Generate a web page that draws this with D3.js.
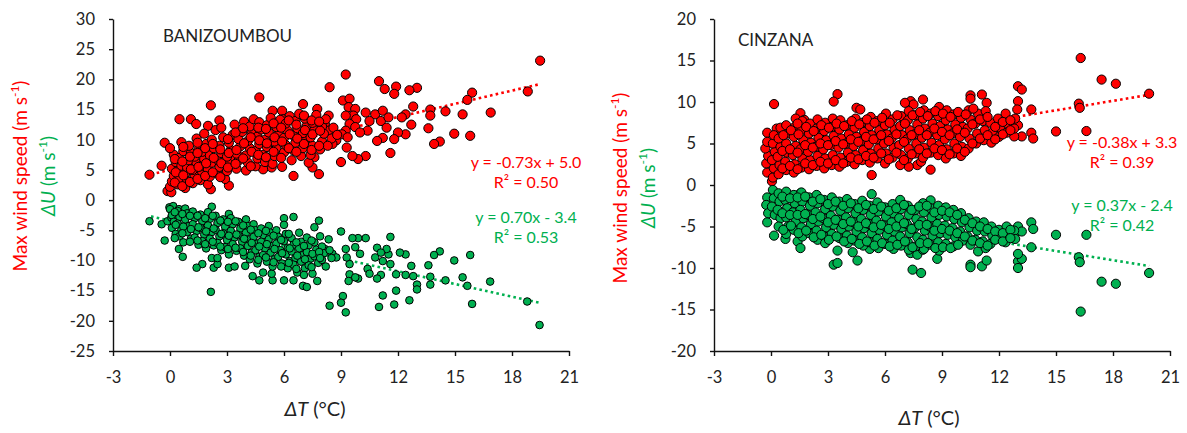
<!DOCTYPE html>
<html>
<head>
<meta charset="utf-8">
<script src="https://cdn.jsdelivr.net/npm/d3@7"></script>
<style>
  body { margin: 0; background: #fff; }
  svg { font-family: Lato, "Open Sans", sans-serif; }
</style>
</head>
<body>
<div id="chart"></div>
<script>
// ---- data: [dT, value] ----
const xTicks = [-3, 0, 3, 6, 9, 12, 15, 18, 21];
const banYTicks = [30, 25, 20, 15, 10, 5, 0, -5, -10, -15, -20, -25];
const cinYTicks = [20, 15, 10, 5, 0, -5, -10, -15, -20];

// Banizoumbou, max wind speed (red)
const banRed = [
  [19.48,23.1],[18.83,18.0],[16.88,14.5],[15.9,17.8],[15.65,16.6],[15.8,10.65],[15.4,14.2],[14.96,11.0],
  [14.5,14.7],[13.7,15.0],[13.7,14.0],[13.6,11.9],[14.2,9.7],[13.9,9.3],[13.0,18.6],[12.6,18.2],
  [12.7,12.5],[12.8,15.5],[12.4,14.2],[12.2,13.7],[11.9,18.8],[11.8,17.6],[12.4,10.9],[12.0,11.2],
  [11.6,7.8],[11.8,10.1],[11.0,19.7],[11.3,18.4],[10.8,14.2],[11.1,13.1],[11.4,12.0],[11.2,10.3],
  [10.9,9.8],[11.2,14.8],[11.5,13.7],[10.3,14.5],[10.5,13.1],[10.4,11.5],[10.3,7.3],[9.9,6.8],
  [9.6,7.3],[9.0,6.3],[9.25,20.8],[9.1,16.5],[9.45,16.8],[9.4,15.4],[9.75,15.1],[9.65,14.0],
  [9.25,14.0],[9.8,13.4],[9.45,12.6],[9.75,12.1],[9.25,11.5],[10.0,11.2],[9.05,10.9],[9.35,10.4],
  [9.3,8.7],[8.4,18.7],[8.35,14.0],[8.15,12.6],[8.35,11.5],[8.75,9.9],[8.55,9.3],[7.84,4.3],
  [7.5,5.4],[7.6,7.1],[7.0,15.9],[7.75,15.1],[6.5,4.0],[4.7,17.0],[5.9,14.8],[5.4,14.8],
  [5.96,13.4],[5.35,5.4],[4.9,5.1],[2.15,15.7],[3.1,2.4],[2.15,1.8],[0.5,13.4],[1.1,13.4],
  [1.38,12.6],[2.0,12.3],[2.6,13.2],[-1.08,4.2],[-0.44,5.7],[-0.28,9.5],[-0.13,1.5],[0.07,1.3],
  [3.25,6.8],
  [0.0,2.2],[0.1,3.1],[0.2,4.0],[0.1,5.2],[0.3,6.3],[0.2,7.5],[0.0,8.6],[0.4,2.6],[0.5,3.6],
  [0.4,4.8],[0.6,5.7],[0.5,7.0],[0.7,8.1],[0.6,9.6],[0.8,2.0],[0.9,3.2],[0.8,4.4],[0.9,5.4],
  [1.0,6.6],[1.1,7.8],[1.0,9.0],[1.2,2.8],[1.3,4.0],[1.2,5.0],[1.4,6.1],[1.3,7.2],[1.5,8.4],
  [1.4,10.2],[1.6,3.3],[1.7,4.6],[1.6,5.6],[1.8,6.8],[1.7,8.0],[1.9,9.3],[1.8,11.0],[2.0,2.6],
  [2.1,3.9],[2.0,5.1],[2.2,6.2],[2.1,7.4],[2.3,8.6],[2.2,10.0],[2.4,11.6],[2.5,4.4],[2.6,5.5],
  [2.5,6.7],[2.7,7.8],[2.6,9.0],[2.8,10.4],[2.7,12.0],[2.9,3.5],[3.0,4.8],[3.1,6.0],[3.0,7.2],
  [3.2,8.3],[3.1,9.5],[3.3,10.8],[3.4,12.5],[3.5,5.2],[3.6,6.5],[3.5,7.7],[3.7,8.9],[3.6,10.1],
  [3.8,11.3],[3.9,13.0],[4.0,4.9],[4.1,6.2],[4.0,7.4],[4.2,8.6],[4.1,9.8],[4.3,11.0],[4.2,12.2],
  [4.4,13.4],[4.5,5.6],[4.6,6.9],[4.5,8.1],[4.7,9.3],[4.6,10.5],[4.8,11.7],[4.7,12.9],[4.9,7.5],
  [5.0,6.3],[5.1,8.8],[5.0,10.0],[5.2,11.2],[5.1,12.4],[5.3,13.6],[5.4,6.0],[5.5,7.3],[5.6,8.5],
  [5.5,9.7],[5.7,10.9],[5.6,12.1],[5.8,13.3],[5.9,5.5],[6.0,7.9],[6.1,9.1],[6.0,10.3],[6.2,11.5],
  [6.1,12.7],[6.3,13.9],[6.4,6.6],[6.5,8.2],[6.6,9.5],[6.5,10.7],[6.7,11.9],[6.6,13.1],[6.8,14.3],
  [6.9,7.3],[7.0,8.6],[7.1,9.9],[7.0,11.1],[7.2,12.3],[7.1,13.5],[7.3,6.2],[7.4,7.5],[7.5,9.0],
  [7.4,10.4],[7.6,11.6],[7.5,12.8],[7.7,14.1],[7.9,8.4],[8.0,9.7],[8.1,11.0],[8.0,12.2],[8.2,13.4],
  [8.5,10.2],[8.6,12.0],[8.8,10.8],[8.3,9.0],
  [0.25,2.9],[0.3,4.6],[0.25,6.8],[0.65,2.3],[0.7,4.1],[0.65,6.4],[0.7,8.8],[1.05,3.0],[1.1,5.1],
  [1.05,7.2],[1.45,3.5],[1.5,5.5],[1.45,7.8],[1.45,9.5],[1.85,4.0],[1.9,6.1],[1.85,8.6],[2.25,4.6],
  [2.3,7.0],[2.25,9.3],[2.65,3.8],[2.7,6.1],[2.65,8.4],[3.05,5.4],[3.1,7.8],[3.05,10.1],[3.45,6.0],
  [3.5,8.3],[3.45,11.2],[3.85,6.9],[3.9,9.4],[3.85,11.9],[4.25,5.6],[4.3,8.0],[4.25,10.4],[4.65,7.5],
  [4.7,9.9],[4.65,12.0],[5.05,7.1],[5.1,9.4],[5.05,11.8],[5.45,8.0],[5.5,10.4],[5.45,12.7],[5.85,7.0],
  [5.9,9.7],[5.85,12.0],[6.25,8.6],[6.3,10.9],[6.25,13.2],[6.65,8.0],[6.7,10.2],[6.65,12.5],[7.05,9.3],
  [7.1,11.6],[7.05,14.0],[7.45,8.3],[7.5,10.9],[7.45,13.2],[7.85,9.0],[7.9,11.5],[7.85,13.0]
];

// Banizoumbou, delta U (green)
const banGreen = [
  [19.45,-20.7],[18.8,-16.8],[16.85,-13.5],[15.9,-17.2],[15.65,-14.2],[15.4,-12.8],[15.8,-9.1],
  [14.96,-10.0],[14.5,-13.3],[14.2,-8.5],[13.9,-9.1],[13.7,-12.7],[13.7,-14.0],[13.6,-10.8],
  [13.0,-14.0],[13.0,-14.8],[12.7,-10.9],[12.8,-12.6],[12.6,-16.6],[12.4,-9.0],[12.1,-8.7],
  [11.9,-15.0],[11.8,-17.3],[11.9,-12.3],[12.4,-12.4],[11.6,-6.1],[11.2,-15.8],[11.0,-17.7],
  [11.1,-12.4],[10.9,-13.0],[10.8,-9.5],[11.2,-10.1],[11.5,-9.0],[11.4,-8.1],[10.9,-7.9],
  [11.1,-8.7],[11.6,-10.6],[10.3,-6.3],[9.9,-6.3],[9.6,-6.3],[10.4,-11.4],[10.5,-12.2],
  [9.9,-13.0],[9.25,-18.6],[9.1,-15.9],[9.0,-17.0],[8.4,-17.5],[9.0,-5.2],[9.45,-10.6],
  [9.45,-12.3],[9.4,-13.4],[9.75,-12.8],[9.3,-9.5],[9.25,-8.1],[9.75,-7.8],[10.0,-8.9],
  [8.35,-6.5],[8.15,-8.1],[8.55,-8.9],[8.75,-9.5],[7.84,-3.4],[7.6,-4.5],[7.0,-14.2],
  [7.2,-14.4],[7.75,-13.4],[6.5,-13.3],[6.0,-13.3],[5.4,-13.3],[5.35,-12.2],[6.5,-2.8],
  [6.0,-3.0],[4.7,-13.3],[4.9,-12.0],[4.35,-12.6],[2.15,-15.2],[3.1,-11.2],[3.4,-11.0],
  [3.96,-10.9],[2.3,-11.2],[2.5,-10.6],[1.7,-10.6],[1.4,-11.2],[2.2,-9.6],[2.5,-9.6],
  [0.67,-9.4],[0.47,-8.1],[-1.08,-3.5],[-0.44,-4.0],[-0.28,-6.7],[-0.13,-3.5],[0.07,-2.9],
  [-0.03,-1.2],[0.17,-1.0],[0.47,-1.5],[2.2,-1.1],[3.1,-2.3],
  [0.0,-1.5],[0.1,-2.5],[0.2,-3.6],[0.1,-4.6],[0.3,-5.6],[0.4,-1.8],[0.5,-2.8],[0.4,-3.9],
  [0.6,-4.9],[0.5,-6.0],[0.7,-7.0],[0.8,-1.4],[0.9,-2.2],[0.8,-3.2],[1.0,-4.3],[0.9,-5.3],
  [1.1,-6.4],[1.2,-1.9],[1.3,-3.0],[1.2,-4.0],[1.4,-5.1],[1.3,-6.2],[1.5,-7.4],[1.6,-2.4],
  [1.7,-3.5],[1.6,-4.6],[1.8,-5.7],[1.7,-6.8],[1.9,-8.0],[2.0,-2.0],[2.1,-3.1],[2.0,-4.2],
  [2.2,-5.3],[2.1,-6.4],[2.3,-7.5],[2.4,-2.6],[2.5,-3.8],[2.4,-4.9],[2.6,-6.0],[2.5,-7.1],
  [2.7,-8.3],[2.8,-3.2],[2.9,-4.4],[2.8,-5.5],[3.0,-6.6],[2.9,-7.8],[3.1,-9.0],[3.2,-3.0],
  [3.3,-4.0],[3.2,-5.1],[3.4,-6.2],[3.3,-7.3],[3.5,-8.4],[3.6,-3.6],[3.7,-4.7],[3.6,-5.8],
  [3.8,-6.9],[3.7,-8.0],[3.9,-9.2],[4.0,-3.2],[4.1,-4.3],[4.0,-5.4],[4.2,-6.5],[4.1,-7.6],
  [4.3,-8.7],[4.2,-9.8],[4.4,-4.0],[4.5,-5.0],[4.4,-6.1],[4.6,-7.2],[4.5,-8.3],[4.7,-9.4],
  [4.6,-10.5],[4.8,-4.7],[4.9,-5.8],[4.8,-6.9],[5.0,-8.0],[4.9,-9.1],[5.1,-10.2],[5.2,-4.3],
  [5.3,-5.4],[5.2,-6.5],[5.4,-7.6],[5.3,-8.7],[5.5,-9.8],[5.4,-11.0],[5.6,-5.0],[5.7,-6.1],
  [5.6,-7.2],[5.8,-8.3],[5.7,-9.4],[5.9,-10.5],[6.0,-4.1],[6.1,-5.6],[6.0,-6.8],[6.2,-7.9],
  [6.1,-9.0],[6.3,-10.1],[6.2,-11.3],[6.4,-6.3],[6.5,-7.4],[6.4,-8.5],[6.6,-9.6],[6.5,-10.7],
  [6.7,-12.0],[6.8,-5.4],[6.9,-6.9],[6.8,-8.0],[7.0,-9.1],[6.9,-10.2],[7.1,-11.3],[7.2,-6.2],
  [7.3,-7.5],[7.2,-8.6],[7.4,-9.7],[7.3,-10.8],[7.5,-12.2],[7.6,-7.0],[7.7,-8.2],[7.6,-9.3],
  [7.8,-10.4],[7.9,-6.0],[8.0,-7.7],[8.1,-8.8],[8.0,-9.9],[8.2,-11.0],[8.4,-8.3],[8.5,-9.6],
  [0.25,-2.0],[0.3,-4.1],[0.25,-6.3],[0.65,-2.3],[0.7,-4.4],[0.65,-5.5],[1.05,-2.6],[1.1,-4.8],
  [1.05,-6.9],[1.45,-2.6],[1.5,-4.5],[1.45,-6.7],[1.85,-3.0],[1.9,-5.2],[1.85,-7.3],[2.25,-2.6],
  [2.3,-4.7],[2.25,-6.9],[2.65,-3.4],[2.7,-5.6],[2.65,-7.7],[3.05,-3.6],[3.1,-5.9],[3.05,-8.1],
  [3.45,-3.5],[3.5,-5.7],[3.45,-7.9],[3.85,-4.2],[3.9,-6.4],[3.85,-8.6],[4.25,-4.9],[4.3,-7.1],
  [4.25,-9.2],[4.65,-5.5],[4.7,-7.7],[4.65,-9.9],[5.05,-5.1],[5.1,-7.3],[5.05,-9.5],[5.45,-5.9],
  [5.5,-8.1],[5.45,-10.3],[5.85,-6.6],[5.9,-8.8],[5.85,-11.0],[6.25,-5.6],[6.3,-8.0],[6.25,-10.4],
  [6.65,-7.0],[6.7,-9.2],[6.65,-11.4],[7.05,-7.6],[7.1,-9.8],[7.05,-12.4],[7.45,-6.7],[7.5,-8.9],
  [7.45,-11.1],[7.85,-8.6],[7.9,-9.6]
];

// Cinzana, max wind speed (red)
const cinRed = [
  [16.3,15.3],[17.4,12.7],[18.15,12.2],[19.9,11.0],[16.2,9.8],[16.25,9.3],[16.6,6.5],[15.0,6.45],
  [13.7,9.1],[13.7,6.3],[13.8,5.6],[13.0,11.9],[13.2,11.5],[13.0,10.1],[12.96,9.1],[13.0,7.2],
  [13.2,5.85],[12.8,5.85],[11.1,10.9],[10.5,10.8],[10.5,10.4],[11.35,9.9],[8.0,10.3],[7.35,10.1],
  [7.5,9.7],[7.05,9.9],[3.5,10.95],[3.3,10.05],[4.5,9.3],[4.7,9.1],[0.16,9.75],[-0.2,6.3],
  [0.3,6.8],[5.3,1.2],[8.4,1.85],[7.7,2.4],[7.9,2.8],[7.25,2.2],[0.05,0.45],[1.55,8.65],[1.75,7.85],
  [-0.2,1.5],[-0.25,2.6],[-0.15,3.5],[-0.3,4.4],[-0.2,5.2],
  [0.1,0.9],[0.15,2.0],[0.05,3.0],[0.2,4.0],[0.1,5.0],[0.15,6.0],
  [0.4,1.3],[0.45,2.4],[0.35,3.4],[0.5,4.6],[0.4,5.6],[0.5,6.9],
  [0.8,1.8],[0.75,2.8],[0.85,3.9],[0.8,5.0],[0.9,6.2],[0.8,7.2],
  [1.2,1.5],[1.25,2.5],[1.15,3.6],[1.3,4.7],[1.2,5.8],[1.25,7.0],[1.3,8.0],
  [1.6,2.1],[1.65,3.2],[1.55,4.3],[1.7,5.4],[1.6,6.6],[1.65,7.7],
  [2.0,1.9],[2.05,3.0],[1.95,4.0],[2.1,5.1],[2.0,6.2],[2.05,7.4],
  [2.4,2.3],[2.45,3.5],[2.35,4.6],[2.5,5.7],[2.4,6.8],[2.45,7.9],
  [2.8,2.0],[2.85,3.2],[2.75,4.3],[2.9,5.4],[2.8,6.5],[2.85,7.5],
  [3.2,2.4],[3.25,3.6],[3.15,4.8],[3.3,5.9],[3.2,7.0],[3.25,8.0],
  [3.6,2.2],[3.65,3.3],[3.55,4.5],[3.7,5.6],[3.6,6.7],[3.65,7.8],
  [4.0,2.8],[4.05,3.9],[3.95,5.0],[4.1,6.1],[4.0,7.2],
  [4.4,2.5],[4.45,3.6],[4.35,4.7],[4.5,5.8],[4.4,6.9],[4.45,8.0],
  [4.8,3.0],[4.85,4.2],[4.75,5.3],[4.9,6.4],[4.8,7.5],
  [5.2,2.7],[5.25,3.8],[5.15,4.9],[5.3,6.0],[5.2,7.1],[5.25,8.2],
  [5.6,3.2],[5.65,4.4],[5.55,5.5],[5.7,6.6],[5.6,7.7],
  [6.0,2.6],[6.05,3.8],[5.95,5.0],[6.1,6.1],[6.0,7.2],[6.05,8.6],
  [6.4,3.3],[6.45,4.5],[6.35,5.6],[6.5,6.7],[6.4,7.9],
  [6.8,2.4],[6.85,3.6],[6.75,4.8],[6.9,6.0],[6.8,7.1],[6.85,8.3],
  [7.2,3.2],[7.25,4.4],[7.15,5.5],[7.3,6.6],[7.2,7.8],[7.25,8.9],
  [7.6,3.8],[7.65,5.0],[7.55,6.1],[7.7,7.3],[7.6,8.4],
  [8.0,3.3],[8.05,4.5],[7.95,5.7],[8.1,6.8],[8.0,8.0],[8.05,9.0],
  [8.4,3.9],[8.45,5.1],[8.35,6.3],[8.5,7.4],[8.4,8.6],
  [8.8,3.6],[8.85,4.8],[8.75,6.0],[8.9,7.1],[8.8,8.3],[8.85,9.4],
  [9.2,3.2],[9.25,4.3],[9.15,5.5],[9.3,6.7],[9.2,7.8],[9.25,9.0],
  [9.6,3.8],[9.65,5.0],[9.55,6.2],[9.7,7.3],[9.6,8.5],
  [10.0,3.5],[10.05,4.6],[9.95,5.8],[10.1,7.0],[10.0,8.1],
  [10.4,4.4],[10.45,5.6],[10.35,6.8],[10.5,7.9],[10.4,9.0],
  [10.8,5.0],[10.85,6.2],[10.75,7.4],[10.9,8.6],
  [11.2,5.4],[11.25,6.6],[11.15,7.7],[11.3,8.9],
  [11.6,5.1],[11.65,6.3],[11.55,7.5],
  [12.0,5.8],[12.05,6.9],[11.95,8.0],
  [12.4,6.3],[12.45,7.4],[12.35,8.6],
  [12.8,6.8],[12.85,8.0],
  [0.6,2.0],[0.6,4.1],[0.65,6.0],[1.0,2.3],[1.0,4.3],[1.05,6.6],[1.4,1.9],[1.4,3.9],[1.45,6.1],
  [1.4,7.4],[1.8,2.6],[1.8,4.8],[1.85,7.0],[2.2,2.4],[2.2,4.5],[2.25,6.5],[2.6,2.8],[2.6,5.0],
  [2.65,7.2],[3.0,2.6],[3.0,4.8],[3.05,6.9],[3.4,3.0],[3.4,5.3],[3.45,7.4],[3.8,2.6],[3.8,4.9],
  [3.85,7.1],[4.2,3.3],[4.2,5.5],[4.25,7.7],[4.6,3.1],[4.6,5.2],[4.65,7.3],[5.0,3.5],[5.0,5.8],
  [5.05,7.9],[5.4,3.3],[5.4,5.5],[5.45,7.5],[5.8,3.8],[5.8,6.0],[5.85,8.1],[6.2,3.1],[6.2,5.3],
  [6.25,7.5],[6.6,3.9],[6.6,6.1],[6.65,8.4],[7.0,3.0],[7.0,5.2],[7.05,7.4],[7.4,3.7],[7.4,6.0],
  [7.45,8.4],[7.8,4.3],[7.8,6.6],[7.85,8.8],[8.2,3.8],[8.2,6.0],[8.25,8.3],[8.6,4.4],[8.6,6.8],
  [8.65,8.9],[9.0,4.2],[9.0,6.4],[9.05,8.6],[9.4,3.7],[9.4,6.0],[9.45,8.2],[9.8,4.4],[9.8,6.7],
  [9.85,8.8],[10.2,4.0],[10.2,6.3],[10.25,8.5],[10.6,5.0],[10.6,7.3],[10.65,9.2],[11.0,5.6],
  [11.0,7.9],[11.4,6.0],[11.4,8.2],[11.8,5.5],[11.8,7.0],[12.2,6.1],[12.2,7.6],[12.6,6.6],[12.6,7.8]
];

// Cinzana, delta U (green)
const cinGreen = [
  [16.3,-15.25],[17.4,-11.65],[18.15,-11.9],[19.9,-10.6],[16.2,-8.7],[16.25,-9.3],[16.6,-6.0],
  [15.0,-6.0],[13.7,-4.5],[13.8,-5.3],[13.7,-7.5],[13.0,-9.2],[13.2,-8.9],[13.0,-10.0],[13.0,-8.3],
  [13.0,-5.0],[12.8,-5.97],[13.2,-5.6],[10.5,-9.6],[10.5,-9.9],[11.1,-9.8],[11.35,-9.1],[10.9,-8.0],
  [7.45,-10.2],[7.9,-10.6],[7.35,-8.2],[7.7,-8.4],[8.0,-7.8],[8.75,-8.9],[3.3,-9.6],[3.5,-9.4],
  [3.5,-7.9],[4.3,-8.1],[4.55,-9.1],[5.2,-7.7],[0.16,-6.1],[0.76,-6.5],[-0.2,-4.5],[1.4,-6.8],
  [1.55,-7.6],[5.3,-1.1],[1.55,-1.0],[8.4,-1.85],
  [-0.2,-1.5],[-0.25,-2.4],[-0.15,-3.4],
  [0.1,-0.6],[0.15,-1.6],[0.05,-2.6],[0.2,-3.6],
  [0.4,-1.0],[0.45,-2.0],[0.35,-3.0],[0.5,-4.0],[0.4,-5.0],
  [0.8,-0.8],[0.75,-1.8],[0.85,-2.8],[0.8,-3.9],[0.9,-5.0],[0.8,-5.9],
  [1.2,-1.2],[1.25,-2.2],[1.15,-3.3],[1.3,-4.4],[1.2,-5.4],
  [1.6,-0.9],[1.65,-2.0],[1.55,-3.0],[1.7,-4.0],[1.6,-5.1],[1.65,-6.2],
  [2.0,-1.5],[2.05,-2.5],[1.95,-3.6],[2.1,-4.7],[2.0,-5.8],
  [2.4,-1.2],[2.45,-2.2],[2.35,-3.3],[2.5,-4.4],[2.4,-5.5],[2.45,-6.6],
  [2.8,-1.8],[2.85,-2.9],[2.75,-4.0],[2.9,-5.1],[2.8,-6.2],[2.85,-7.0],
  [3.2,-1.5],[3.25,-2.6],[3.15,-3.7],[3.3,-4.8],[3.2,-5.9],
  [3.6,-2.0],[3.65,-3.1],[3.55,-4.2],[3.7,-5.3],[3.6,-6.4],
  [4.0,-1.7],[4.05,-2.8],[3.95,-3.9],[4.1,-5.0],[4.0,-6.1],[4.05,-7.0],
  [4.4,-2.3],[4.45,-3.4],[4.35,-4.5],[4.5,-5.6],[4.4,-6.7],
  [4.8,-1.9],[4.85,-3.0],[4.75,-4.1],[4.9,-5.2],[4.8,-6.3],[4.85,-7.3],
  [5.2,-2.5],[5.25,-3.6],[5.15,-4.7],[5.3,-5.8],[5.2,-6.9],
  [5.6,-2.1],[5.65,-3.2],[5.55,-4.3],[5.7,-5.4],[5.6,-6.5],[5.65,-7.6],
  [6.0,-2.7],[6.05,-3.8],[5.95,-4.9],[6.1,-6.0],[6.0,-7.1],
  [6.4,-2.3],[6.45,-3.4],[6.35,-4.5],[6.5,-5.6],[6.4,-6.7],[6.45,-7.7],
  [6.8,-1.8],[6.85,-2.9],[6.75,-4.0],[6.9,-5.1],[6.8,-6.2],[6.85,-7.3],
  [7.2,-2.5],[7.25,-3.6],[7.15,-4.7],[7.3,-5.8],[7.2,-6.9],[7.25,-7.8],
  [7.6,-3.0],[7.65,-4.1],[7.55,-5.2],[7.7,-6.3],[7.6,-7.4],
  [8.0,-2.2],[8.05,-3.3],[7.95,-4.4],[8.1,-5.5],[8.0,-6.6],[8.05,-7.7],
  [8.4,-2.8],[8.45,-3.9],[8.35,-5.0],[8.5,-6.1],[8.4,-7.2],
  [8.8,-2.5],[8.85,-3.6],[8.75,-4.7],[8.9,-5.8],[8.8,-6.9],[8.85,-7.9],
  [9.2,-2.7],[9.25,-3.8],[9.15,-4.9],[9.3,-6.0],[9.2,-7.1],
  [9.6,-3.0],[9.65,-4.1],[9.55,-5.2],[9.7,-6.3],[9.6,-7.4],
  [10.0,-3.4],[10.05,-4.5],[9.95,-5.6],[10.1,-6.7],
  [10.4,-4.0],[10.45,-5.1],[10.35,-6.2],[10.5,-7.2],
  [10.8,-4.4],[10.85,-5.5],[10.75,-6.6],
  [11.2,-4.5],[11.25,-5.6],[11.15,-6.8],[11.3,-7.6],
  [11.6,-5.0],[11.65,-6.1],[11.55,-7.1],
  [12.0,-5.4],[12.05,-6.4],
  [12.4,-5.0],[12.45,-6.0],[12.35,-6.9],
  [12.8,-5.5],[12.85,-6.5],
  [0.6,-1.4],[0.6,-3.4],[0.65,-5.4],[1.0,-1.6],[1.0,-3.6],[1.05,-4.9],[1.4,-1.5],[1.4,-3.6],
  [1.45,-5.8],[1.8,-1.4],[1.8,-3.5],[1.85,-5.5],[2.2,-2.0],[2.2,-4.1],[2.25,-6.3],[2.6,-1.7],
  [2.6,-3.8],[2.65,-6.0],[3.0,-2.3],[3.0,-4.5],[3.05,-6.6],[3.4,-2.0],[3.4,-4.2],[3.45,-6.2],
  [3.8,-2.5],[3.8,-4.7],[3.85,-6.8],[4.2,-2.2],[4.2,-4.4],[4.25,-6.5],[4.6,-2.8],[4.6,-5.0],
  [4.65,-7.1],[5.0,-2.4],[5.0,-4.6],[5.05,-6.8],[5.4,-2.9],[5.4,-5.1],[5.45,-7.3],[5.8,-2.6],
  [5.8,-4.8],[5.85,-7.0],[6.2,-3.1],[6.2,-5.3],[6.25,-7.4],[6.6,-2.8],[6.6,-5.0],[6.65,-7.2],
  [7.0,-2.4],[7.0,-4.6],[7.05,-6.8],[7.4,-3.0],[7.4,-5.3],[7.45,-7.5],[7.8,-2.6],[7.8,-4.8],
  [7.85,-7.0],[8.2,-2.5],[8.2,-4.8],[8.25,-7.0],[8.6,-3.3],[8.6,-5.5],[8.65,-7.6],[9.0,-3.1],
  [9.0,-5.3],[9.05,-7.5],[9.4,-3.3],[9.4,-5.5],[9.45,-7.6],[9.8,-3.6],[9.8,-5.8],[9.85,-7.2],
  [10.2,-4.2],[10.2,-6.2],[10.6,-4.6],[10.6,-6.7],[11.0,-5.0],[11.0,-7.0],[11.4,-5.3],[11.4,-7.3],
  [11.8,-5.6],[11.8,-6.6],[12.2,-5.8],[12.2,-6.8],[12.6,-5.4],[12.6,-6.4]
];

// fitted lines as drawn: [slope, intercept, xStart, xEnd]
const banRedFit = [0.73, 5.0, -1.0, 19.5];
const banGreenFit = [-0.70, -3.4, -1.0, 19.5];
const cinRedFit = [0.38, 3.3, -0.3, 19.9];
const cinGreenFit = [-0.37, -2.4, -0.3, 19.9];

// labels printed on the chart
const banRedEq = ["y = -0.73x + 5.0", "R² = 0.50"];
const banGreenEq = ["y = 0.70x - 3.4", "R² = 0.53"];
const cinRedEq = ["y = -0.38x + 3.3", "R² = 0.39"];
const cinGreenEq = ["y = 0.37x - 2.4", "R² = 0.42"];

const RED = "#ff0000";
const GREEN = "#00b050";

const svg = d3.select("#chart").append("svg")
  .attr("width", 1187)
  .attr("height", 433);

function drawPanel(p) {
  const x = d3.scaleLinear().domain([-3, 21]).range([p.left, p.left + 456]);
  const y = d3.scaleLinear().domain(p.yDomain).range([351, 19]);
  const g = svg.append("g");

  // axes
  const yAxis = g.append("g")
    .attr("transform", `translate(${p.left},0)`)
    .call(d3.axisLeft(y).tickValues(p.yTicks).tickSize(4).tickSizeOuter(0).tickPadding(14)
      .tickFormat(d => String(d)));
  const xAxis = g.append("g")
    .attr("transform", "translate(0,351)")
    .call(d3.axisBottom(x).tickValues(xTicks).tickSize(5).tickSizeOuter(0).tickPadding(15)
      .tickFormat(d => String(d)));
  [xAxis, yAxis].forEach(a => {
    a.selectAll("path, line").attr("stroke", "#111").attr("stroke-width", 1.4);
    a.selectAll("text").attr("font-size", 16.5).attr("fill", "#222")
      .attr("font-family", "Lato, sans-serif");
  });

  // dotted trend lines (under the markers)
  [[p.redFit, RED], [p.greenFit, GREEN]].forEach(([f, c]) => {
    g.append("line")
      .attr("x1", x(f[2])).attr("y1", y(f[0] * f[2] + f[1]))
      .attr("x2", x(f[3])).attr("y2", y(f[0] * f[3] + f[1]))
      .attr("stroke", c).attr("stroke-width", 2.6)
      .attr("stroke-dasharray", "2.6,3.2");
  });

  // markers
  g.append("g").selectAll("circle").data(p.red).join("circle")
    .attr("cx", d => x(d[0])).attr("cy", d => y(d[1]))
    .attr("r", p.rRed).attr("fill", RED).attr("stroke", "#000").attr("stroke-width", 1);
  g.append("g").selectAll("circle").data(p.green).join("circle")
    .attr("cx", d => x(d[0])).attr("cy", d => y(d[1]))
    .attr("r", p.rGreen).attr("fill", GREEN).attr("stroke", "#000").attr("stroke-width", 1);

  // station name
  g.append("text").attr("x", p.nameX).attr("y", p.nameY)
    .attr("font-size", 17).attr("fill", "#222").text(p.name);

  // equations
  [[p.redEq, RED, p.redEqY], [p.greenEq, GREEN, p.greenEqY]].forEach(([lines, c, y0]) => {
    lines.forEach((t, i) => {
      g.append("text").attr("x", p.eqX).attr("y", y0 + i * 20)
        .attr("text-anchor", "middle").attr("font-size", 16).attr("fill", c).text(t);
    });
  });

  // y titles
  const red = g.append("text")
    .attr("transform", `translate(${p.redTitleX},${p.titleY}) rotate(-90)`)
    .attr("text-anchor", "middle").attr("font-size", 19).attr("fill", RED);
  red.append("tspan").text("Max wind speed (m s");
  red.append("tspan").attr("font-size", 12).attr("dy", -8).text("-1");
  red.append("tspan").attr("dy", 8).text(")");

  const green = g.append("text")
    .attr("transform", `translate(${p.greenTitleX},${p.titleY}) rotate(-90)`)
    .attr("text-anchor", "middle").attr("font-size", 19).attr("fill", GREEN);
  green.append("tspan").attr("font-style", "italic").text("ΔU");
  green.append("tspan").text(" (m s");
  green.append("tspan").attr("font-size", 12).attr("dy", -8).text("-1");
  green.append("tspan").attr("dy", 8).text(")");

  // x title
  const xt = g.append("text").attr("x", p.xTitleX).attr("y", p.xTitleY)
    .attr("text-anchor", "middle").attr("font-size", 20).attr("fill", "#222");
  xt.append("tspan").attr("font-style", "italic").text("ΔT");
  xt.append("tspan").text(" (°C)");
}

drawPanel({
  left: 113, yDomain: [-25, 30], yTicks: banYTicks,
  red: banRed, green: banGreen, rRed: 4.6, rGreen: 3.8,
  redFit: banRedFit, greenFit: banGreenFit,
  name: "BANIZOUMBOU", nameX: 163, nameY: 42,
  redEq: banRedEq, greenEq: banGreenEq, eqX: 526, redEqY: 168, greenEqY: 223,
  redTitleX: 27, greenTitleX: 55, titleY: 176,
  xTitleX: 315, xTitleY: 416
});

drawPanel({
  left: 714, yDomain: [-20, 20], yTicks: cinYTicks,
  red: cinRed, green: cinGreen, rRed: 4.6, rGreen: 4.6,
  redFit: cinRedFit, greenFit: cinGreenFit,
  name: "CINZANA", nameX: 738, nameY: 46,
  redEq: cinRedEq, greenEq: cinGreenEq, eqX: 1122, redEqY: 148, greenEqY: 211,
  redTitleX: 627, greenTitleX: 655, titleY: 188,
  xTitleX: 929, xTitleY: 425
});
</script>
</body>
</html>
